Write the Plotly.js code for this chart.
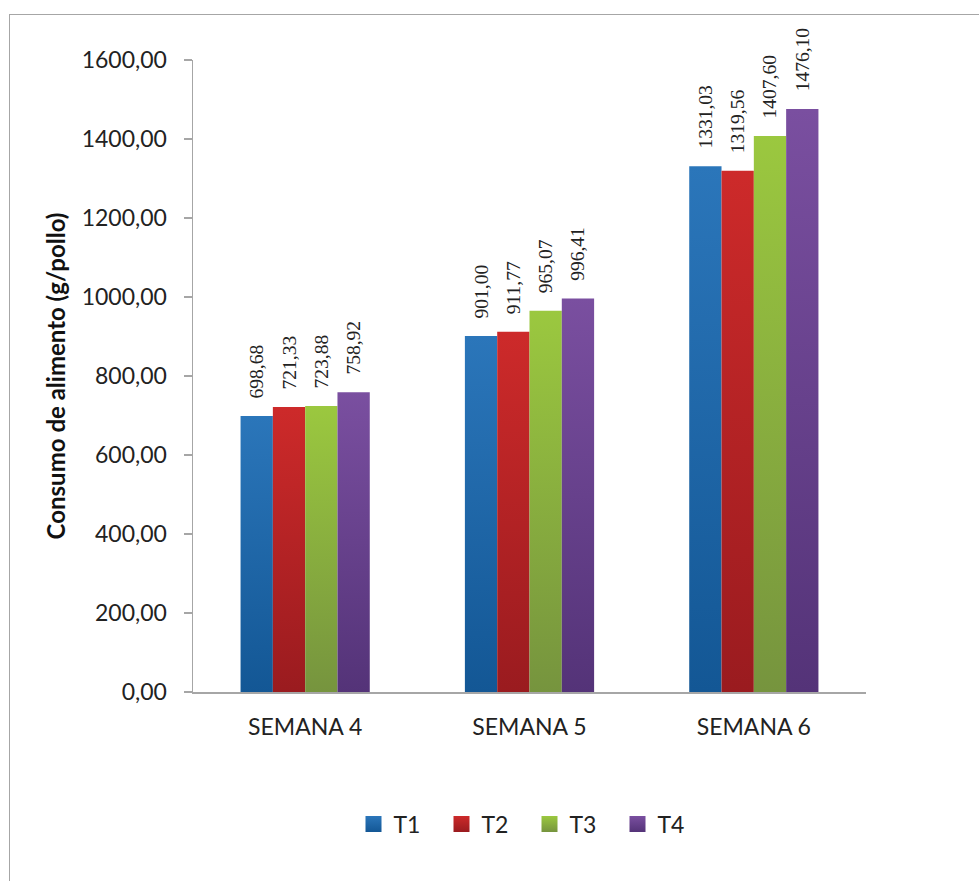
<!DOCTYPE html>
<html>
<head>
<meta charset="utf-8">
<script src="https://cdn.plot.ly/plotly-3.0.1.min.js"></script>
<style>
  html, body { margin: 0; padding: 0; background: #fff; overflow: hidden; }
  #frame { position: absolute; left: 9px; top: 14px; width: 1100px; height: 1000px; border: 1px solid #a6a6a6; box-sizing: border-box; }
  #chart { position: absolute; left: 0; top: 0; width: 979px; height: 881px; }
</style>
</head>
<body>
<div id="frame"></div>
<div id="chart"></div>
<script>
const categories = ["SEMANA 4", "SEMANA 5", "SEMANA 6"];
const seriesNames = ["T1", "T2", "T3", "T4"];
const T1 = [698.68, 901.00, 1331.03];
const T2 = [721.33, 911.77, 1319.56];
const T3 = [723.88, 965.07, 1407.60];
const T4 = [758.92, 996.41, 1476.10];
const yTicks = [0, 200, 400, 600, 800, 1000, 1200, 1400, 1600];

const seriesValues = [T1, T2, T3, T4];
const midColors = ["#2168ab", "#b92426", "#8aae3e", "#6a4491"];
const gradTop = ["#2b76ba", "#cd2a2a", "#9bc83f", "#7a4fa0"];
const gradBottom = ["#135795", "#9a1b1f", "#76943e", "#543378"];

const traces = seriesValues.map((vals, i) => ({
  type: "bar",
  name: seriesNames[i],
  x: categories,
  y: vals,
  marker: { color: midColors[i], line: { width: 0 } },
  texttemplate: "\u00a0\u00a0\u00a0%{y:.2f}",
  textposition: "outside",
  textangle: -90,
  constraintext: "none",
  cliponaxis: false,
  textfont: { family: "Liberation Serif, Times New Roman, serif", size: 19.5, color: "#222" },
  hoverinfo: "x+y+name"
}));

const layout = {
  width: 979, height: 881,
  paper_bgcolor: "rgba(0,0,0,0)",
  plot_bgcolor: "rgba(0,0,0,0)",
  margin: { l: 193, r: 113, t: 60, b: 189 },
  separators: ",.",
  barmode: "group",
  bargap: 0.424,
  bargroupgap: 0,
  showlegend: true,
  legend: {
    orientation: "h", x: 0.5, xanchor: "center", y: -0.209, yanchor: "middle",
    font: { family: "Lato, Calibri, sans-serif", size: 23, color: "#222" },
    entrywidth: 43, itemwidth: 30, traceorder: "normal"
  },
  xaxis: {
    type: "category",
    showline: true, linecolor: "#a6a6a6", linewidth: 1.5,
    ticks: "", showgrid: false, zeroline: false,
    tickfont: { family: "Lato, Calibri, sans-serif", size: 23, color: "#222" },
    ticklabelstandoff: 14
  },
  yaxis: {
    range: [0, 1600],
    tickvals: yTicks,
    tickformat: ".2f",
    showline: true, linecolor: "#a6a6a6", linewidth: 1.5,
    ticks: "outside", ticklen: 8, tickcolor: "#a6a6a6", tickwidth: 1.5,
    showgrid: false, zeroline: false,
    ticklabelstandoff: 12,
    tickfont: { family: "Lato, Calibri, sans-serif", size: 23, color: "#222" },
    title: { text: "Consumo de alimento (g/pollo)", font: { family: "Lato, Calibri, sans-serif", size: 24, color: "#111", weight: "bold" }, standoff: 9 }
  }
};

Plotly.newPlot("chart", traces, layout, { displayModeBar: false, staticPlot: true }).then(gd => {
  const svg = gd.querySelector("svg.main-svg");
  const ns = "http://www.w3.org/2000/svg";
  let defs = svg.querySelector("defs");
  if (!defs) { defs = document.createElementNS(ns, "defs"); svg.insertBefore(defs, svg.firstChild); }
  seriesNames.forEach((n, i) => {
    const g = document.createElementNS(ns, "linearGradient");
    g.setAttribute("id", "grad" + i);
    g.setAttribute("x1", "0"); g.setAttribute("y1", "0");
    g.setAttribute("x2", "0"); g.setAttribute("y2", "1");
    const s1 = document.createElementNS(ns, "stop");
    s1.setAttribute("offset", "0"); s1.setAttribute("stop-color", gradTop[i]);
    const s2 = document.createElementNS(ns, "stop");
    s2.setAttribute("offset", "1"); s2.setAttribute("stop-color", gradBottom[i]);
    g.appendChild(s1); g.appendChild(s2); defs.appendChild(g);
  });
  gd.querySelectorAll(".barlayer .trace").forEach((t, i) => {
    t.querySelectorAll(".point path").forEach(p => { p.style.fill = "url(#grad" + i + ")"; });
  });
  gd.querySelectorAll(".legend .traces").forEach((t, i) => {
    t.querySelectorAll(".legendpoints path").forEach(p => {
      p.setAttribute("d", "M8,8H-8V-8H8Z");
      p.style.fill = "url(#grad" + i + ")";
    });
  });
});
</script>
</body>
</html>
